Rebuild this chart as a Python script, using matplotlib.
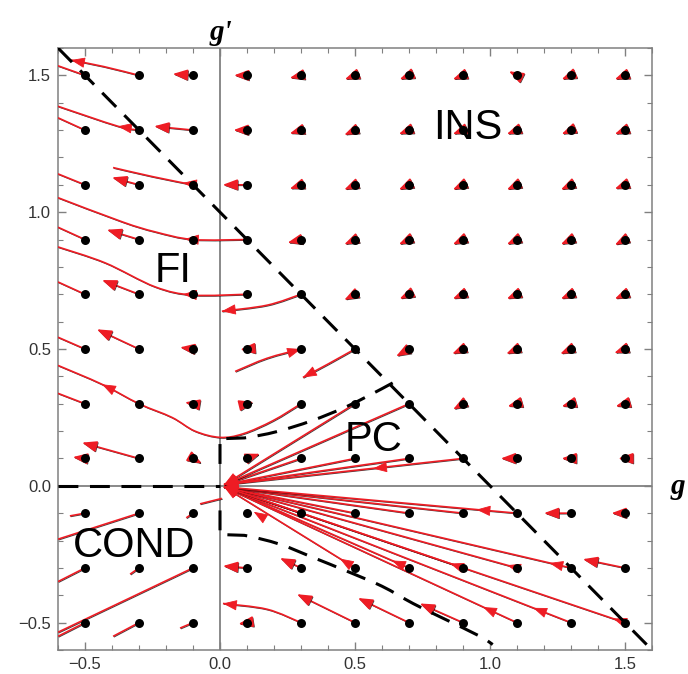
import numpy as np
import matplotlib
matplotlib.use("Agg")
import matplotlib.pyplot as plt
from matplotlib.path import Path
from matplotlib.patches import PathPatch, FancyArrowPatch
import matplotlib.patheffects as pe
from matplotlib.ticker import MultipleLocator

# ---------------- data ----------------
grid_x = [-0.5, -0.3, -0.1, 0.1, 0.3, 0.5, 0.7, 0.9, 1.1, 1.3, 1.5]
grid_y = [-0.5, -0.3, -0.1, 0.1, 0.3, 0.5, 0.7, 0.9, 1.1, 1.3, 1.5]

# long trajectories (points along each curve) and whether an arrowhead sits at the end
traj_fi = [
    ([(-0.5, 1.5), (-0.6, 1.535)], False),
    ([(-0.3, 1.5), (-0.43, 1.532), (-0.552, 1.556)], True),
    ([(-0.5, 1.3), (-0.6, 1.345)], False),
    ([(-0.3, 1.3), (-0.378, 1.314), (-0.6, 1.387)], False),
    ([(-0.5, 1.1), (-0.6, 1.14)], False),
    ([(-0.1, 1.1), (-0.25, 1.13), (-0.396, 1.163)], False),
    ([(-0.5, 0.9), (-0.6, 0.945)], False),
    ([(0.1, 0.9), (-0.1, 0.9), (-0.24, 0.928), (-0.363, 0.965), (-0.6, 1.053)], False),
    ([(-0.5, 0.7), (-0.6, 0.745)], False),
    ([(0.1, 0.7), (-0.1, 0.697), (-0.24, 0.727), (-0.426, 0.815), (-0.6, 0.873)], False),
    ([(-0.5, 0.5), (-0.6, 0.543)], False),
    ([(-0.5, 0.3), (-0.6, 0.338)], False),
    ([(0.3, 0.3), (0.196, 0.238), (0.085, 0.19), (0.0, 0.177), (-0.093, 0.2),
      (-0.178, 0.25), (-0.3, 0.3), (-0.437, 0.371), (-0.6, 0.44)], False),
]
traj_mid = [
    ([(0.3, 0.7), (0.174, 0.66), (0.007, 0.638)], True),
    ([(0.3, 0.5), (0.174, 0.466), (0.056, 0.418)], False),
    ([(0.5, 0.5), (0.4, 0.445), (0.307, 0.396)], True),
    ([(0.3, -0.5), (0.174, -0.451), (0.011, -0.43)], True),
]
traj_cond = [
    ([(-0.5, -0.1), (-0.556, -0.11)], False),
    ([(-0.3, -0.1), (-0.6, -0.195)], False),
    ([(-0.1, -0.1), (-0.125, -0.117)], False),
    ([(-0.5, -0.3), (-0.6, -0.35)], False),
    ([(-0.3, -0.3), (-0.333, -0.323)], False),
    ([(-0.1, -0.3), (-0.6, -0.535)], False),
    ([(-0.5, -0.5), (-0.6, -0.55)], False),
    ([(-0.3, -0.5), (-0.396, -0.55)], False),
    ([(-0.1, -0.5), (-0.148, -0.52)], False),
    ([(0.007, -0.046), (-0.074, -0.066)], False),
]
# trajectories of the PC fan that end at the origin
fan_up_start = [(0.3, 0.1), (0.5, 0.1), (0.7, 0.1), (0.9, 0.1), (0.5, 0.3), (0.7, 0.3)]
fan_up_end = (0.015, 0.004)
fan_dn_start = [(0.3, -0.1), (0.5, -0.1), (0.7, -0.1), (0.9, -0.1), (1.1, -0.1),
                (0.5, -0.3), (0.7, -0.3), (0.9, -0.3), (1.1, -0.3), (1.3, -0.3),
                (1.1, -0.5), (1.3, -0.5), (1.5, -0.5)]
fan_dn_end = (0.015, -0.004)

# short arrows: start x, start y, end x, end y
short_arrows = [
    (-0.3, 1.1, -0.4, 1.127), (-0.1, 1.3, -0.244, 1.314), (-0.1, 1.5, -0.175, 1.505),
    (-0.3, 0.9, -0.419, 0.936), (-0.3, 0.7, -0.437, 0.752), (-0.3, 0.5, -0.456, 0.572),
    (-0.1, 0.5, -0.148, 0.506), (-0.1, 0.3, -0.13, 0.305), (-0.5, 0.1, -0.545, 0.105),
    (-0.3, 0.1, -0.511, 0.158), (-0.1, 0.1, -0.067, 0.081),
    (0.1, 1.5, 0.052, 1.5), (0.1, 1.3, 0.05, 1.3), (0.1, 1.1, 0.01, 1.1),
    (0.1, 0.5, 0.075, 0.498), (0.1, 0.3, 0.125, 0.306), (0.1, 0.1, 0.148, 0.117),
    (0.1, -0.3, 0.011, -0.293), (0.1, -0.5, 0.068, -0.505), (0.3, -0.3, 0.222, -0.264),
    (0.5, -0.5, 0.285, -0.396), (0.7, -0.5, 0.511, -0.41), (0.9, -0.5, 0.74, -0.43),
    (1.3, -0.1, 1.2, -0.1), (1.5, -0.1, 1.45, -0.1), (1.5, -0.3, 1.344, -0.268),
    (1.1, 0.1, 1.04, 0.1), (1.3, 0.1, 1.265, 0.1), (1.5, 0.1, 1.475, 0.1),
    (0.9, 0.3, 0.863, 0.279), (1.1, 0.3, 1.065, 0.29), (1.3, 0.3, 1.265, 0.29), (1.5, 0.3, 1.465, 0.29),
    (0.7, 0.5, 0.652, 0.473), (0.9, 0.5, 0.86, 0.482), (1.1, 0.5, 1.06, 0.482),
    (1.3, 0.5, 1.26, 0.482), (1.5, 0.5, 1.46, 0.485),
    (0.5, 0.7, 0.46, 0.679), (0.7, 0.7, 0.665, 0.683), (0.9, 0.7, 0.862, 0.683),
    (1.1, 0.7, 1.062, 0.683), (1.3, 0.7, 1.262, 0.683), (1.5, 0.7, 1.462, 0.683),
    (0.3, 0.9, 0.25, 0.888), (0.5, 0.9, 0.46, 0.882), (0.7, 0.9, 0.662, 0.882),
    (0.9, 0.9, 0.862, 0.882), (1.1, 0.9, 1.062, 0.882), (1.3, 0.9, 1.262, 0.882), (1.5, 0.9, 1.462, 0.88),
    (0.3, 1.1, 0.258, 1.085), (0.5, 1.1, 0.46, 1.082), (0.7, 1.1, 0.662, 1.082),
    (0.9, 1.1, 0.862, 1.082), (1.1, 1.1, 1.062, 1.082), (1.3, 1.1, 1.262, 1.082), (1.5, 1.1, 1.462, 1.085),
    (0.3, 1.3, 0.258, 1.287), (0.5, 1.3, 0.46, 1.282), (0.7, 1.3, 0.662, 1.285),
    (0.9, 1.3, 0.862, 1.285), (1.1, 1.3, 1.062, 1.285), (1.3, 1.3, 1.265, 1.285), (1.5, 1.3, 1.462, 1.285),
    (0.3, 1.5, 0.258, 1.49), (0.5, 1.5, 0.462, 1.485), (0.7, 1.5, 0.665, 1.485),
    (0.9, 1.5, 0.862, 1.485), (1.1, 1.5, 1.07, 1.515), (1.3, 1.5, 1.265, 1.485), (1.5, 1.5, 1.462, 1.485),
]

# arrowheads in the middle of long trajectories: tip x, tip y, direction x, direction y
mid_heads = [
    (-0.378, 1.314, -1.0, 0.15), (-0.137, 1.107, -1.0, 0.12), (-0.13, 0.902, -1.0, 0.05),
    (-0.137, 0.70, -1.0, 0.05), (-0.437, 0.371, -1.0, 0.5), (0.3, 0.5, 1.0, 0.3),
    (0.567, 0.063, -1.0, -0.11),
    (0.95, -0.087, -1.0, 0.09), (1.22, -0.282, -1.0, 0.23), (1.456, -0.485, -1.0, 0.33),
    (1.063, -0.29, -1.0, 0.27), (0.852, -0.284, -1.0, 0.33), (0.637, -0.273, -1.0, 0.43),
    (0.444, -0.266, -1.0, 0.6), (1.16, -0.446, -1.0, 0.385), (0.974, -0.443, -1.0, 0.45),
    (0.125, -0.095, -1.0, 0.6),
]

# phase boundaries (dashed); the first two points of each PC curve form a sharp corner
diag_x = [-0.6, 1.6]
diag_y = [1.6, -0.6]
cond_x = [-0.6, 0.0]
cond_y = [0.0, 0.0]
pc_upper = [(0.0, 0.08), (0.0, 0.172), (0.09, 0.175), (0.21, 0.198), (0.34, 0.238),
            (0.47, 0.29), (0.6, 0.355), (0.655, 0.385)]
pc_lower = [(0.0, -0.09), (0.0, -0.178), (0.09, -0.181), (0.22, -0.213), (0.34, -0.26),
            (0.47, -0.312), (0.6, -0.367), (0.715, -0.43), (0.826, -0.484),
            (0.963, -0.55), (1.01, -0.58)]

region_labels = [("INS", 0.919, 1.266), ("FI", -0.172, 0.745), ("PC", 0.567, 0.128),
                 ("COND", -0.319, -0.26)]

# ---------------- drawing ----------------
RED = "#ee1c24"


def curve_path(pts, n_straight=0):
    """Smooth path through the given points; the first n_straight segments are straight."""
    p = np.asarray(pts, float)
    verts = [p[0]]
    codes = [Path.MOVETO]
    for i in range(1, n_straight + 1):
        verts.append(p[i])
        codes.append(Path.LINETO)
    q = p[n_straight:]
    if len(q) == 2:
        verts.append(q[1])
        codes.append(Path.LINETO)
        return Path(np.array(verts), codes)
    prev = p[n_straight - 1] if n_straight > 0 else q[0]
    ext = np.vstack([prev, q, q[-1]])
    for i in range(1, len(ext) - 2):
        c1 = ext[i] + (ext[i + 1] - ext[i - 1]) / 6.0
        c2 = ext[i + 1] - (ext[i + 2] - ext[i]) / 6.0
        verts += [c1, c2, ext[i + 1]]
        codes += [Path.CURVE4] * 3
    return Path(np.array(verts), codes)


line_fx = [pe.SimpleLineShadow(offset=(0.55, -0.55), shadow_color="black", alpha=0.75,
                               linewidth=0.8),
           pe.Normal()]


def draw_head(ax, tip, d):
    d = np.asarray(d, float)
    d = d / np.hypot(*d)
    tail = np.asarray(tip) - 0.012 * d
    ax.add_patch(FancyArrowPatch(tuple(tail), tuple(tip),
                                 arrowstyle="-|>,head_length=0.8,head_width=0.3",
                                 mutation_scale=11, color=RED, lw=0.6,
                                 shrinkA=0, shrinkB=0, zorder=4))


def draw_traj(ax, pts, head):
    ax.add_patch(PathPatch(curve_path(pts), fill=False, ec=RED, lw=1.2,
                           zorder=3, path_effects=line_fx))
    if head:
        draw_head(ax, pts[-1], np.subtract(pts[-1], pts[-2]))


fig = plt.figure(figsize=(6.88, 6.74), dpi=100)
ax = fig.add_axes([58 / 688, 1 - 650 / 674, 594 / 688, 602 / 674])
ax.set_xlim(-0.6, 1.6)
ax.set_ylim(-0.6, 1.6)

# zero axes
ax.axvline(0, color="#808080", lw=1.3, zorder=1)
ax.axhline(0, color="#808080", lw=1.3, zorder=1)

for pts, head in traj_fi + traj_mid + traj_cond:
    draw_traj(ax, pts, head)
for s in fan_up_start:
    draw_traj(ax, [s, fan_up_end], True)
for s in fan_dn_start:
    draw_traj(ax, [s, fan_dn_end], True)
for x0, y0, x1, y1 in short_arrows:
    ax.add_patch(FancyArrowPatch((x0, y0), (x1, y1),
                                 arrowstyle="-|>,head_length=0.8,head_width=0.3",
                                 mutation_scale=11, color=RED, lw=1.2,
                                 shrinkA=0, shrinkB=0, zorder=4,
                                 path_effects=line_fx))
for tx, ty, dx, dy in mid_heads:
    draw_head(ax, (tx, ty), (dx, dy))

# grid dots
gxx, gyy = np.meshgrid(grid_x, grid_y)
ax.scatter(gxx.ravel(), gyy.ravel(), s=42, color="black", zorder=5, linewidths=0)

# dashed boundaries
dash = (0, (6.5, 3.8))
ax.plot(diag_x, diag_y, color="black", lw=2.2, ls=dash, zorder=6)
ax.plot(cond_x, cond_y, color="black", lw=2.2, ls=dash, zorder=6)
for b in (pc_upper, pc_lower):
    ax.add_patch(PathPatch(curve_path(b, n_straight=2), fill=False, ec="black", lw=2.2,
                           ls=dash, zorder=6, joinstyle="miter"))

for txt, x, y in region_labels:
    ax.text(x, y, txt, ha="center", va="baseline", fontsize=30,
            family="Liberation Sans", color="black", zorder=7)

# axes styling
for sp in ax.spines.values():
    sp.set_color("#808080")
    sp.set_linewidth(1.1)
ax.xaxis.set_major_locator(MultipleLocator(0.5))
ax.yaxis.set_major_locator(MultipleLocator(0.5))
ax.xaxis.set_minor_locator(MultipleLocator(0.1))
ax.yaxis.set_minor_locator(MultipleLocator(0.1))
ax.tick_params(which="both", direction="in", top=True, right=True,
               color="#808080", labelsize=12, labelcolor="#333333")
ax.tick_params(which="major", length=6, width=1, pad=5)
ax.tick_params(which="minor", length=3.5, width=0.8)
for lab in ax.get_xticklabels() + ax.get_yticklabels():
    lab.set_family("Liberation Sans")

fig.text(221 / 688, 1 - 33 / 674, "g'", ha="center", va="center", fontsize=21,
         family="Liberation Serif", style="italic", weight="bold")
fig.text(671 / 688, 1 - 486 / 674, "g", ha="left", va="center", fontsize=21,
         family="Liberation Serif", style="italic", weight="bold")

fig.savefig("out.png", dpi=100, facecolor="white")
